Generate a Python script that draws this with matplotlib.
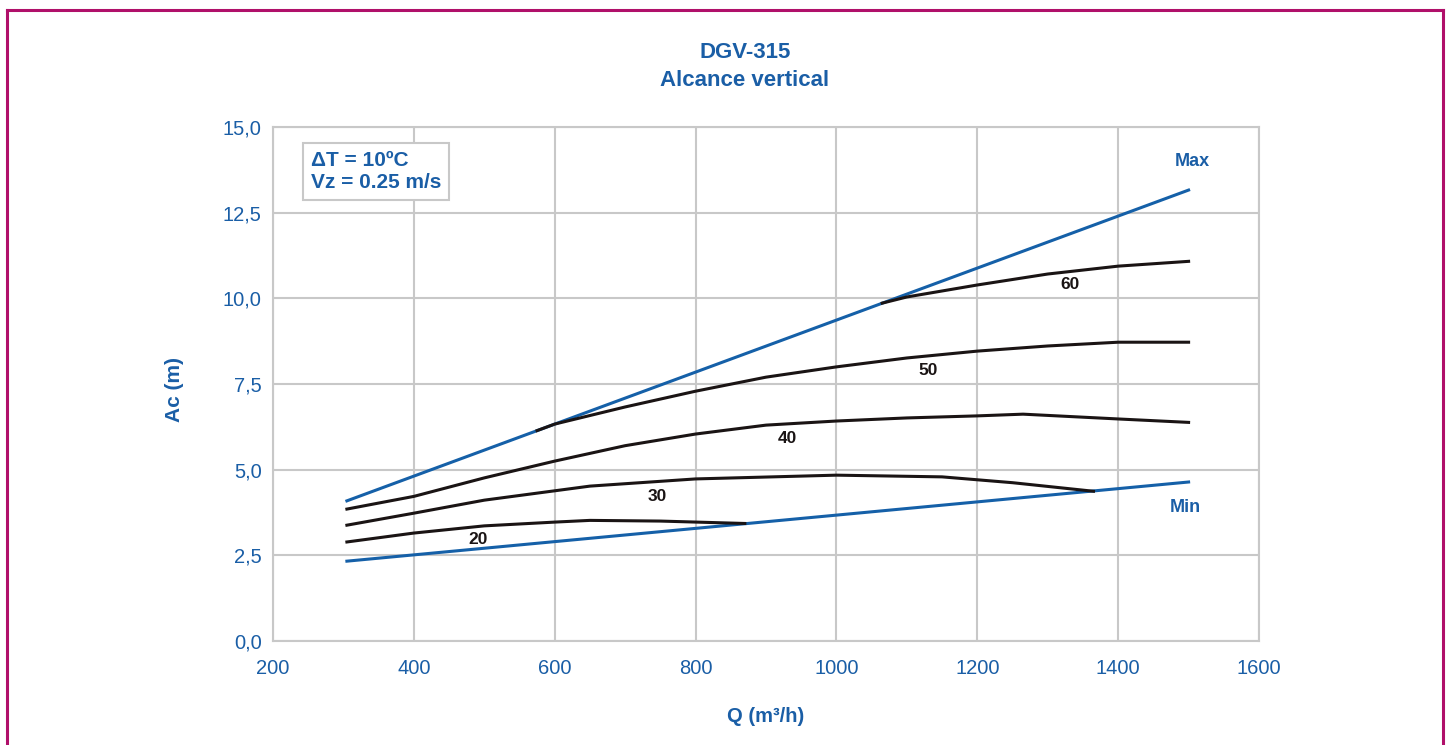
import numpy as np
import matplotlib.pyplot as plt
from matplotlib.lines import Line2D

# curve data (Q in m3/h, Ac in m)
q_max = [305, 1500]
ac_max = [4.09, 13.16]
q_min = [305, 1500]
ac_min = [2.33, 4.64]

q_20 = [305, 400, 500, 600, 650, 750, 870]
ac_20 = [2.89, 3.15, 3.36, 3.47, 3.52, 3.50, 3.43]
q_30 = [305, 400, 500, 650, 800, 1000, 1150, 1250, 1365]
ac_30 = [3.38, 3.73, 4.11, 4.52, 4.73, 4.84, 4.79, 4.62, 4.37]
q_40 = [305, 400, 500, 600, 700, 800, 900, 1000, 1100, 1200, 1265, 1400, 1500]
ac_40 = [3.85, 4.22, 4.76, 5.25, 5.70, 6.04, 6.30, 6.42, 6.51, 6.57, 6.62, 6.48, 6.38]
q_50 = [575, 600, 700, 800, 900, 1000, 1100, 1200, 1300, 1400, 1500]
ac_50 = [6.14, 6.33, 6.83, 7.29, 7.70, 8.00, 8.26, 8.46, 8.61, 8.72, 8.72]
q_60 = [1065, 1100, 1200, 1300, 1400, 1500]
ac_60 = [9.86, 10.04, 10.39, 10.71, 10.94, 11.08]

curve_labels = ['20', '30', '40', '50', '60']
label_q = [491, 745, 931, 1130, 1332]
label_ac = [2.95, 4.23, 5.90, 7.88, 10.39]

xticks = [200, 400, 600, 800, 1000, 1200, 1400, 1600]
yticks = [0, 2.5, 5, 7.5, 10, 12.5, 15]

blue = '#1560a8'
txtblue = '#1a5ea6'
grey = '#c8c8c8'
plt.rcParams['font.family'] = ['Liberation Sans', 'DejaVu Sans']

fig = plt.figure(figsize=(14.51, 7.45), dpi=100)
ax = fig.add_axes([0.1881, 0.1396, 0.6796, 0.6899])

ax.plot(q_max, ac_max, color=blue, lw=2.2, zorder=3)
ax.plot(q_min, ac_min, color=blue, lw=2.2, zorder=3)
for qq, aa in [(q_20, ac_20), (q_30, ac_30), (q_40, ac_40), (q_50, ac_50), (q_60, ac_60)]:
    ax.plot(qq, aa, color='#1a1414', lw=2.2, zorder=4)

for lab, x, y in zip(curve_labels, label_q, label_ac):
    ax.text(x, y, lab, ha='center', va='center', fontsize=12.5, fontweight='bold', color='#1a1414')
ax.text(1505, 13.98, 'Max', ha='center', va='center', fontsize=13, fontweight='bold', color=txtblue)
ax.text(1495, 3.91, 'Min', ha='center', va='center', fontsize=13, fontweight='bold', color=txtblue)

ax.text(254, 14.3, 'ΔT = 10ºC\nVz = 0.25 m/s', ha='left', va='top', fontsize=15,
        fontweight='bold', color=txtblue, linespacing=1.18,
        bbox=dict(boxstyle='square,pad=0.38', fc='white', ec=grey, lw=1.5), zorder=5)

ax.set_xlim(200, 1600)
ax.set_ylim(0, 15)
ax.set_xticks(xticks)
ax.set_yticks(yticks)
ax.set_yticklabels([f'{v:.1f}'.replace('.', ',') for v in yticks])
ax.tick_params(length=0, labelsize=14.5, labelcolor=txtblue)
ax.tick_params(axis='x', pad=13)
ax.tick_params(axis='y', pad=8)
ax.grid(True, color=grey, lw=1.5)
ax.set_axisbelow(True)
for s in ax.spines.values():
    s.set_color(grey)
    s.set_linewidth(1.5)

fig.text(745 / 1451, 1 - 52 / 745, 'DGV-315', ha='center', va='center', fontsize=16,
         fontweight='bold', color=txtblue)
fig.text(745 / 1451, 1 - 81 / 745, 'Alcance vertical', ha='center', va='center', fontsize=16,
         fontweight='bold', color=txtblue)
fig.text(175 / 1451, 1 - 389 / 745, 'Ac (m)', rotation=90, ha='center', va='center',
         fontsize=15, fontweight='bold', color=txtblue)
fig.text(766 / 1451, 1 - 717 / 745, 'Q (m³/h)', ha='center', va='center',
         fontsize=14.5, fontweight='bold', color=txtblue)

# magenta frame (no bottom edge visible)
frame = '#b0106a'
xl, xr, yt = 6.5 / 1451, 1443 / 1451, 1 - 10 / 745
fig.add_artist(Line2D([xl, xl], [0, yt], color=frame, lw=2.2))
fig.add_artist(Line2D([xr, xr], [0, yt], color=frame, lw=2.2))
fig.add_artist(Line2D([xl, xr], [yt, yt], color=frame, lw=2.2))

fig.savefig('out.png', dpi=100)
